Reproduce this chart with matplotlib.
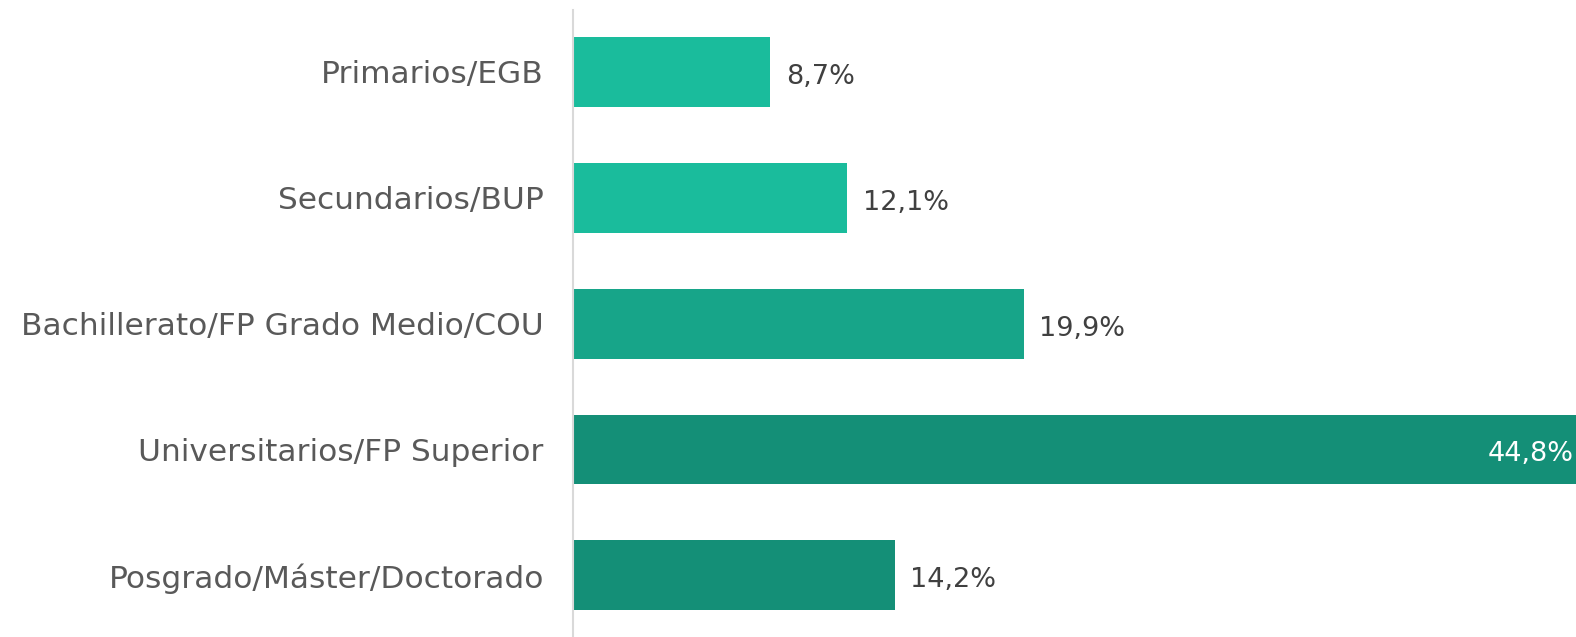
import numpy as np
import matplotlib.pyplot as plt

# nivel de estudios
categorias = ['Primarios/EGB', 'Secundarios/BUP', 'Bachillerato/FP Grado Medio/COU',
              'Universitarios/FP Superior', 'Posgrado/Máster/Doctorado']
valores = [8.7, 12.1, 19.9, 44.8, 14.2]
colores = ['#1ABC9C', '#1ABC9C', '#17A589', '#148F77', '#148F77']

fig = plt.figure(figsize=(15.76, 6.37), dpi=100)
ax = fig.add_axes([0.3636, 0.0, 0.6364, 0.984])

y = np.arange(len(categorias))
ax.barh(y, valores, height=0.555, color=colores)

ax.set_xlim(0, 44.3)
ax.set_ylim(4.49, -0.49)
ax.set_yticks(y)
ax.set_yticklabels(categorias, fontsize=22.5, color='#595959')
ax.tick_params(axis='y', length=0, pad=21)
ax.set_xticks([])
for s in ['top', 'right', 'bottom']:
    ax.spines[s].set_visible(False)
ax.spines['left'].set_color('#D9D9D9')
ax.spines['left'].set_linewidth(1.5)

for i, v in enumerate(valores):
    txt = f'{v:.1f}%'.replace('.', ',')
    if v > 40:
        ax.text(44.2, i + 0.04, txt, ha='right', va='center', fontsize=19.5, color='white')
    else:
        ax.text(v + 0.7, i + 0.04, txt, ha='left', va='center', fontsize=19.5, color='#404040')

fig.savefig('out.png', dpi=100)
